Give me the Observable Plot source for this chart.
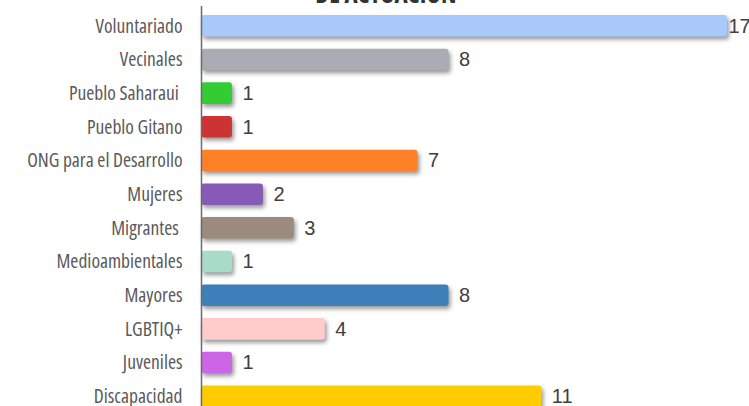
<!DOCTYPE html>
<html>
<head>
<meta charset="utf-8">
<script src="https://cdn.jsdelivr.net/npm/d3@7"></script>
<script src="https://cdn.jsdelivr.net/npm/@observablehq/plot@0.6"></script>
<style>
  html, body { margin: 0; padding: 0; background: #fff; overflow: hidden; width: 749px; height: 406px; }
  #wrap { position: relative; width: 749px; height: 406px; overflow: hidden; }
  #title { position: absolute; left: 386px; top: -19px; transform: translateX(-50%); font-family: "Open Sans", sans-serif; font-stretch: 75%; font-weight: 700; font-size: 25px; line-height: 25px; color: #333; white-space: nowrap; }
  #chart { position: absolute; left: 0; top: 0; }
  svg { font-family: "Open Sans", sans-serif; font-stretch: 75%; }
  svg g[aria-label="y-axis tick label"] text { font-size: 19.5px; }
  svg g[aria-label="text"] { font-family: "Liberation Sans", Arial, sans-serif; font-stretch: 100%; }
  svg g[aria-label="text"] text { font-size: 20px; }
</style>
</head>
<body>
<div id="wrap">
  <div id="title">DE ACTUACIÓN</div>
  <div id="chart"></div>
</div>
<script>
const categories = ["Voluntariado", "Vecinales", "Pueblo Saharaui ", "Pueblo Gitano", "ONG para el Desarrollo", "Mujeres", "Migrantes ", "Medioambientales", "Mayores", "LGBTIQ+", "Juveniles", "Discapacidad"];
const values = [17, 8, 1, 1, 7, 2, 3, 1, 8, 4, 1, 11];
const colors = ["#a9c9fa", "#a9acb5", "#33cc33", "#cc3333", "#ff8026", "#865ab6", "#9c8a7e", "#a8dcc6", "#3d80b9", "#ffcccc", "#cc66e6", "#ffcc00"];

const data = categories.map((c, i) => ({category: c, value: values[i], color: colors[i]}));
const maxV = d3.max(values);

const plot = Plot.plot({
  width: 749,
  height: 420,
  marginLeft: 201,
  marginRight: 22,
  marginTop: 15,
  marginBottom: 13,
  x: {domain: [0, maxV], axis: null},
  y: {domain: categories, paddingInner: 0.36, paddingOuter: 0, round: false, label: null},
  style: {fontSize: "17px", color: "#5a5a5a", background: "transparent"},
  marks: [
    Plot.axisY({tickSize: 0, tickPadding: 19, fontSize: 19.5, label: null, fill: "#5a5a5a"}),
    Plot.barX(data, {x: "value", y: "category", fill: "color", rx: 3}),
    Plot.ruleX([0], {stroke: "#6b6b6b", strokeWidth: 1.5, insetTop: -9}),
    Plot.text(data.filter(d => d.value !== maxV), {x: "value", y: "category", text: d => String(d.value), textAnchor: "start", dx: 10, fontSize: 20, fill: "#404040"}),
    Plot.text(data.filter(d => d.value === maxV), {x: "value", y: "category", text: d => String(d.value), textAnchor: "start", dx: 1, fontSize: 20, fill: "#404040"})
  ]
});
const barG = plot.querySelector('g[aria-label="bar"]');
if (barG) barG.style.filter = "drop-shadow(2px 3px 2px rgba(0,0,0,0.4))";
document.getElementById("chart").appendChild(plot);
</script>
</body>
</html>
